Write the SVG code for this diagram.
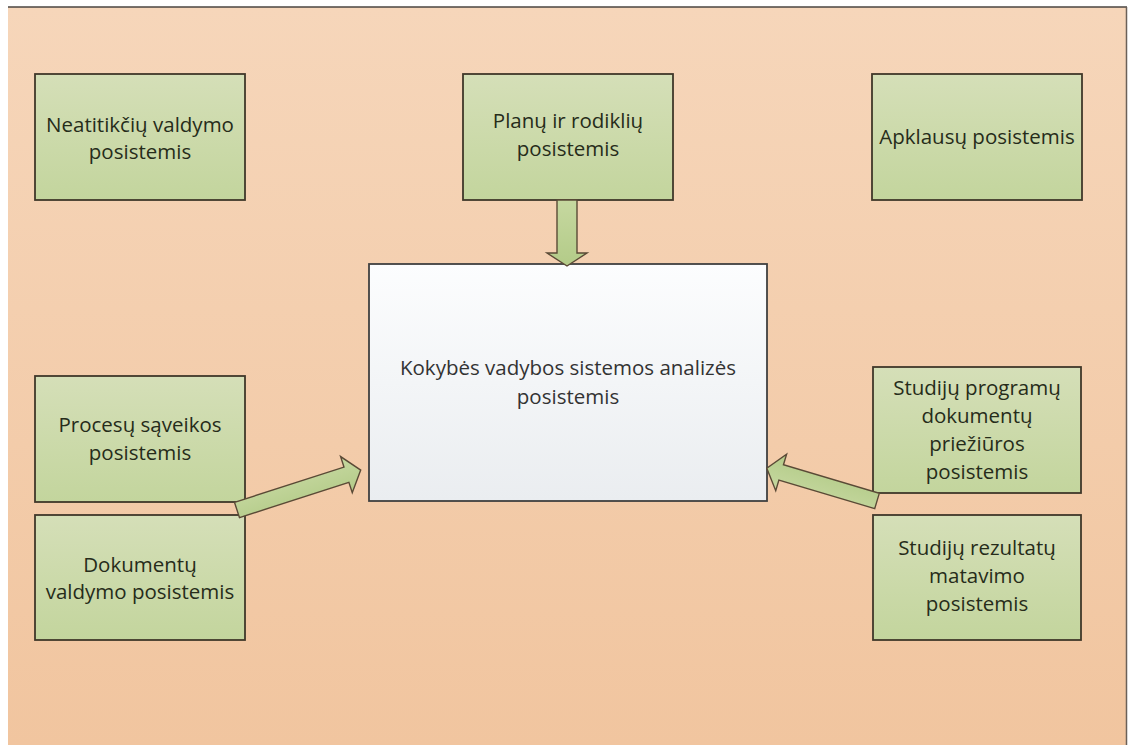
<svg xmlns="http://www.w3.org/2000/svg" width="1128" height="749" viewBox="0 0 1128 749">
  <defs>
    <linearGradient id="bgGrad" x1="0" y1="0" x2="0" y2="1">
      <stop offset="0" stop-color="#f6d6ba"/>
      <stop offset="1" stop-color="#f1c59f"/>
    </linearGradient>
    <linearGradient id="boxGrad" x1="0" y1="0" x2="0" y2="1">
      <stop offset="0" stop-color="#d5dfb8"/>
      <stop offset="1" stop-color="#c3d59d"/>
    </linearGradient>
    <linearGradient id="mainGrad" x1="0" y1="0" x2="0" y2="1">
      <stop offset="0" stop-color="#fcfdfe"/>
      <stop offset="1" stop-color="#eaedf0"/>
    </linearGradient>
    <linearGradient id="arrowGrad" x1="0" y1="0" x2="0" y2="1">
      <stop offset="0" stop-color="#c6d8a0"/>
      <stop offset="1" stop-color="#b3cb88"/>
    </linearGradient>
    <style>
      .box { fill: url(#boxGrad); stroke: #40382a; stroke-width: 1.8; }
      .main { fill: url(#mainGrad); stroke: #404040; stroke-width: 1.8; }
      .lbl { font-family: "Open Sans", "Liberation Sans", sans-serif; font-size: 20.5px; fill: #262c1a; text-anchor: middle; }
      .mlbl { font-family: "Open Sans", "Liberation Sans", sans-serif; font-size: 20.5px; fill: #333333; text-anchor: middle; }
      .arrow { fill: url(#arrowGrad); stroke: #5a4a36; stroke-width: 1.4; stroke-linejoin: miter; }
    </style>
  </defs>

  <!-- page background -->
  <rect x="0" y="0" width="1128" height="749" fill="#ffffff"/>
  <rect x="8" y="7" width="1119" height="738" fill="url(#bgGrad)"/>
  <line x1="8" y1="7" x2="1127" y2="7" stroke="#4a4540" stroke-width="1.5"/>
  <line x1="1126.5" y1="7" x2="1126.5" y2="745" stroke="#6a6058" stroke-width="1.5"/>

  <!-- subsystem nodes -->
  <g id="node-neatitikciu">
    <rect class="box" x="35" y="74" width="210" height="126"/>
    <text class="lbl" x="140" y="132">Neatitikčių valdymo</text>
    <text class="lbl" x="140" y="159">posistemis</text>
  </g>
  <g id="node-planu">
    <rect class="box" x="463" y="74" width="210" height="126"/>
    <text class="lbl" x="568" y="128">Planų ir rodiklių</text>
    <text class="lbl" x="568" y="156">posistemis</text>
  </g>
  <g id="node-apklausu">
    <rect class="box" x="872" y="74" width="210" height="126"/>
    <text class="lbl" x="977" y="144">Apklausų posistemis</text>
  </g>
  <g id="node-procesu">
    <rect class="box" x="35" y="376" width="210" height="126"/>
    <text class="lbl" x="140" y="432">Procesų sąveikos</text>
    <text class="lbl" x="140" y="460">posistemis</text>
  </g>
  <g id="node-dokumentu">
    <rect class="box" x="35" y="515" width="210" height="125"/>
    <text class="lbl" x="140" y="572">Dokumentų</text>
    <text class="lbl" x="140" y="599">valdymo posistemis</text>
  </g>
  <g id="node-studiju-programu">
    <rect class="box" x="873" y="367" width="208" height="126"/>
    <text class="lbl" x="977" y="395">Studijų programų</text>
    <text class="lbl" x="977" y="423">dokumentų</text>
    <text class="lbl" x="977" y="451">priežiūros</text>
    <text class="lbl" x="977" y="479">posistemis</text>
  </g>
  <g id="node-studiju-rezultatu">
    <rect class="box" x="873" y="515" width="208" height="125"/>
    <text class="lbl" x="977" y="555">Studijų rezultatų</text>
    <text class="lbl" x="977" y="583">matavimo</text>
    <text class="lbl" x="977" y="611">posistemis</text>
  </g>
  <g id="node-kokybes">
    <rect class="main" x="369" y="264" width="398" height="237"/>
    <text class="mlbl" x="568" y="375">Kokybės vadybos sistemos analizės</text>
    <text class="mlbl" x="568" y="404">posistemis</text>
  </g>

  <!-- block arrows into the analysis subsystem -->
  <g id="connectors">
    <polygon class="arrow" points="557,200 577,200 577,253 587,253 567,266 547,253 557,253 557,200"/>
    <polygon class="arrow" transform="translate(237,510) rotate(-17.9)" points="0,-8 115,-8 115,-19 130,0 115,19 115,8 0,8"/>
    <polygon class="arrow" transform="translate(877,501) rotate(-163.4)" points="0,-8 100,-8 100,-19 115,0 100,19 100,8 0,8"/>
  </g>
</svg>
